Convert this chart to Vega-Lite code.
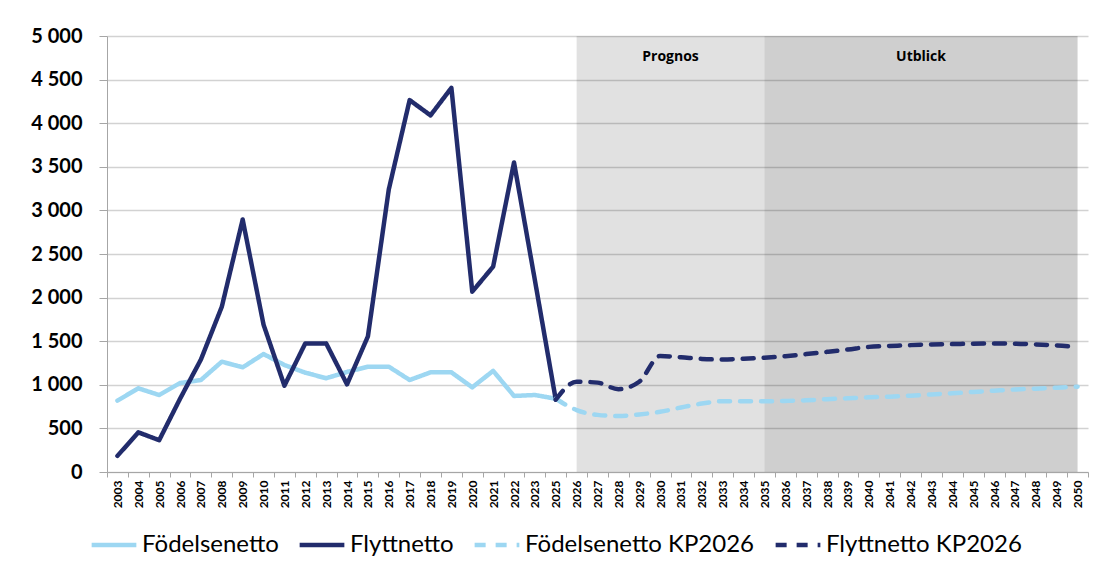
{
  "$schema": "https://vega.github.io/schema/vega-lite/v6.json",
  "width": 981,
  "height": 436,
  "autosize": {"type": "none"},
  "padding": {"left": 107, "top": 36, "right": 8, "bottom": 94},
  "background": "white",
  "config": {"view": {"stroke": null}, "font": "Lato"},
  "datasets": {
    "series": [
      {"year": "2003", "series": "Födelsenetto", "value": 818},
      {"year": "2004", "series": "Födelsenetto", "value": 960},
      {"year": "2005", "series": "Födelsenetto", "value": 883},
      {"year": "2006", "series": "Födelsenetto", "value": 1020},
      {"year": "2007", "series": "Födelsenetto", "value": 1055},
      {"year": "2008", "series": "Födelsenetto", "value": 1265},
      {"year": "2009", "series": "Födelsenetto", "value": 1200},
      {"year": "2010", "series": "Födelsenetto", "value": 1353},
      {"year": "2011", "series": "Födelsenetto", "value": 1227},
      {"year": "2012", "series": "Födelsenetto", "value": 1139},
      {"year": "2013", "series": "Födelsenetto", "value": 1075},
      {"year": "2014", "series": "Födelsenetto", "value": 1147},
      {"year": "2015", "series": "Födelsenetto", "value": 1208},
      {"year": "2016", "series": "Födelsenetto", "value": 1208},
      {"year": "2017", "series": "Födelsenetto", "value": 1055},
      {"year": "2018", "series": "Födelsenetto", "value": 1143},
      {"year": "2019", "series": "Födelsenetto", "value": 1143},
      {"year": "2020", "series": "Födelsenetto", "value": 971},
      {"year": "2021", "series": "Födelsenetto", "value": 1160},
      {"year": "2022", "series": "Födelsenetto", "value": 872},
      {"year": "2023", "series": "Födelsenetto", "value": 883},
      {"year": "2025", "series": "Födelsenetto", "value": 840},
      {"year": "2003", "series": "Flyttnetto", "value": 185},
      {"year": "2004", "series": "Flyttnetto", "value": 455},
      {"year": "2005", "series": "Flyttnetto", "value": 365},
      {"year": "2006", "series": "Flyttnetto", "value": 840},
      {"year": "2007", "series": "Flyttnetto", "value": 1290},
      {"year": "2008", "series": "Flyttnetto", "value": 1895},
      {"year": "2009", "series": "Flyttnetto", "value": 2895},
      {"year": "2010", "series": "Flyttnetto", "value": 1690},
      {"year": "2011", "series": "Flyttnetto", "value": 990},
      {"year": "2012", "series": "Flyttnetto", "value": 1475},
      {"year": "2013", "series": "Flyttnetto", "value": 1475},
      {"year": "2014", "series": "Flyttnetto", "value": 1005},
      {"year": "2015", "series": "Flyttnetto", "value": 1555},
      {"year": "2016", "series": "Flyttnetto", "value": 3240},
      {"year": "2017", "series": "Flyttnetto", "value": 4265},
      {"year": "2018", "series": "Flyttnetto", "value": 4090},
      {"year": "2019", "series": "Flyttnetto", "value": 4405},
      {"year": "2020", "series": "Flyttnetto", "value": 2068},
      {"year": "2021", "series": "Flyttnetto", "value": 2355},
      {"year": "2022", "series": "Flyttnetto", "value": 3550},
      {"year": "2023", "series": "Flyttnetto", "value": 2200},
      {"year": "2025", "series": "Flyttnetto", "value": 830},
      {"year": "2025", "series": "Födelsenetto KP2026", "value": 840},
      {"year": "2026", "series": "Födelsenetto KP2026", "value": 710},
      {"year": "2027", "series": "Födelsenetto KP2026", "value": 655},
      {"year": "2028", "series": "Födelsenetto KP2026", "value": 642},
      {"year": "2029", "series": "Födelsenetto KP2026", "value": 660},
      {"year": "2030", "series": "Födelsenetto KP2026", "value": 690},
      {"year": "2031", "series": "Födelsenetto KP2026", "value": 740},
      {"year": "2032", "series": "Födelsenetto KP2026", "value": 785},
      {"year": "2033", "series": "Födelsenetto KP2026", "value": 812},
      {"year": "2034", "series": "Födelsenetto KP2026", "value": 812},
      {"year": "2035", "series": "Födelsenetto KP2026", "value": 812},
      {"year": "2036", "series": "Födelsenetto KP2026", "value": 815},
      {"year": "2037", "series": "Födelsenetto KP2026", "value": 822},
      {"year": "2038", "series": "Födelsenetto KP2026", "value": 835},
      {"year": "2039", "series": "Födelsenetto KP2026", "value": 845},
      {"year": "2040", "series": "Födelsenetto KP2026", "value": 856},
      {"year": "2041", "series": "Födelsenetto KP2026", "value": 864},
      {"year": "2042", "series": "Födelsenetto KP2026", "value": 875},
      {"year": "2043", "series": "Födelsenetto KP2026", "value": 890},
      {"year": "2044", "series": "Födelsenetto KP2026", "value": 902},
      {"year": "2045", "series": "Födelsenetto KP2026", "value": 918},
      {"year": "2046", "series": "Födelsenetto KP2026", "value": 932},
      {"year": "2047", "series": "Födelsenetto KP2026", "value": 946},
      {"year": "2048", "series": "Födelsenetto KP2026", "value": 956},
      {"year": "2049", "series": "Födelsenetto KP2026", "value": 967},
      {"year": "2050", "series": "Födelsenetto KP2026", "value": 979},
      {"year": "2025", "series": "Flyttnetto KP2026", "value": 830},
      {"year": "2026", "series": "Flyttnetto KP2026", "value": 1035},
      {"year": "2027", "series": "Flyttnetto KP2026", "value": 1025},
      {"year": "2028", "series": "Flyttnetto KP2026", "value": 950},
      {"year": "2029", "series": "Flyttnetto KP2026", "value": 1035},
      {"year": "2030", "series": "Flyttnetto KP2026", "value": 1330},
      {"year": "2031", "series": "Flyttnetto KP2026", "value": 1315},
      {"year": "2032", "series": "Flyttnetto KP2026", "value": 1297},
      {"year": "2033", "series": "Flyttnetto KP2026", "value": 1290},
      {"year": "2034", "series": "Flyttnetto KP2026", "value": 1298},
      {"year": "2035", "series": "Flyttnetto KP2026", "value": 1310},
      {"year": "2036", "series": "Flyttnetto KP2026", "value": 1328},
      {"year": "2037", "series": "Flyttnetto KP2026", "value": 1352},
      {"year": "2038", "series": "Flyttnetto KP2026", "value": 1378},
      {"year": "2039", "series": "Flyttnetto KP2026", "value": 1405},
      {"year": "2040", "series": "Flyttnetto KP2026", "value": 1435},
      {"year": "2041", "series": "Flyttnetto KP2026", "value": 1445},
      {"year": "2042", "series": "Flyttnetto KP2026", "value": 1455},
      {"year": "2043", "series": "Flyttnetto KP2026", "value": 1462},
      {"year": "2044", "series": "Flyttnetto KP2026", "value": 1467},
      {"year": "2045", "series": "Flyttnetto KP2026", "value": 1472},
      {"year": "2046", "series": "Flyttnetto KP2026", "value": 1474},
      {"year": "2047", "series": "Flyttnetto KP2026", "value": 1472},
      {"year": "2048", "series": "Flyttnetto KP2026", "value": 1463},
      {"year": "2049", "series": "Flyttnetto KP2026", "value": 1452},
      {"year": "2050", "series": "Flyttnetto KP2026", "value": 1433}
    ],
    "zones": [
      {"label": "Prognos", "start": "2026", "end": "2035", "mid": "2031"},
      {"label": "Utblick", "start": "2035", "end": "2050", "mid": "2043"}
    ]
  },
  "layer": [
    {
      "data": {"name": "zones"},
      "transform": [{"filter": "datum.label === 'Prognos'"}],
      "mark": {"type": "rect", "fill": "#000000", "fillOpacity": 0.118},
      "encoding": {
        "x": {
          "field": "start", "type": "ordinal", "bandPosition": 0.5,
          "scale": {"type": "band", "paddingInner": 0, "paddingOuter": 0},
          "axis": {
            "title": null, "tickBand": "extent", "labelAngle": 270, "labelAlign": "right",
            "labelBaseline": "middle", "labelFontSize": 12, "labelFontWeight": "bold",
            "labelColor": "#000000", "labelPadding": 3, "labelOverlap": false,
            "tickColor": "#a6a6a6", "tickSize": 5, "domainColor": "#a6a6a6", "grid": false
          }
        },
        "x2": {"field": "end", "bandPosition": 0.5},
        "y": {
          "datum": 5000, "type": "quantitative",
          "scale": {"domain": [0, 5000]},
          "axis": {
            "title": null, "values": [0, 500, 1000, 1500, 2000, 2500, 3000, 3500, 4000, 4500, 5000],
            "labelExpr": "replace(format(datum.value, ','), ',', ' ')",
            "labelFontSize": 20, "labelFontWeight": "bold", "labelColor": "#000000",
            "labelPadding": 17, "tickSize": 8, "tickColor": "#a6a6a6", "domainColor": "#a6a6a6",
            "grid": true, "gridColor": "#d2d2d2", "gridWidth": 1.5
          }
        },
        "y2": {"datum": 0}
      }
    },
    {
      "data": {"name": "zones"},
      "transform": [{"filter": "datum.label === 'Utblick'"}],
      "mark": {"type": "rect", "fill": "#000000", "fillOpacity": 0.19},
      "encoding": {
        "x": {"field": "start", "type": "ordinal", "bandPosition": 0.5},
        "x2": {"field": "end", "bandPosition": 0.5},
        "y": {"datum": 5000, "type": "quantitative"},
        "y2": {"datum": 0}
      }
    },
    {
      "data": {"name": "zones"},
      "mark": {"type": "text", "font": "Open Sans", "fontWeight": "bold", "fontSize": 14, "baseline": "top", "align": "center", "dy": 14, "color": "#000000"},
      "encoding": {
        "x": {"field": "mid", "type": "ordinal", "bandPosition": 0},
        "y": {"datum": 5000, "type": "quantitative"},
        "text": {"field": "label"}
      }
    },
    {
      "data": {"name": "series"},
      "transform": [{"filter": "indexof(datum.series, 'KP2026') < 0"}],
      "mark": {"type": "line", "strokeWidth": 4.5, "strokeCap": "round", "strokeJoin": "round"},
      "encoding": {
        "x": {"field": "year", "type": "ordinal", "bandPosition": 0.5},
        "y": {"field": "value", "type": "quantitative"},
        "color": {
          "field": "series", "type": "nominal",
          "scale": {
            "domain": ["Födelsenetto", "Flyttnetto", "Födelsenetto KP2026", "Flyttnetto KP2026"],
            "range": ["#9dd7f2", "#222c6c", "#9dd7f2", "#222c6c"]
          },
          "legend": {
            "orient": "none", "legendX": -18, "legendY": 484, "direction": "horizontal",
            "title": null, "symbolType": "stroke", "symbolSize": 2000, "symbolStrokeWidth": 4.5,
            "labelFontSize": 24, "labelFont": "Lato", "labelColor": "#000000", "labelLimit": 400,
            "columnPadding": 11, "labelOffset": 3, "columns": 4
          }
        },
        "strokeDash": {
          "field": "series", "type": "nominal",
          "scale": {
            "domain": ["Födelsenetto", "Flyttnetto", "Födelsenetto KP2026", "Flyttnetto KP2026"],
            "range": [[1, 0], [1, 0], [11, 10], [11, 10]]
          }
        }
      }
    },
    {
      "data": {"name": "series"},
      "transform": [{"filter": "indexof(datum.series, 'KP2026') >= 0"}],
      "mark": {"type": "line", "strokeWidth": 4.5, "strokeCap": "round", "strokeJoin": "round", "interpolate": "monotone"},
      "encoding": {
        "x": {"field": "year", "type": "ordinal", "bandPosition": 0.5},
        "y": {"field": "value", "type": "quantitative"},
        "color": {"field": "series", "type": "nominal"},
        "strokeDash": {"field": "series", "type": "nominal"}
      }
    }
  ]
}
